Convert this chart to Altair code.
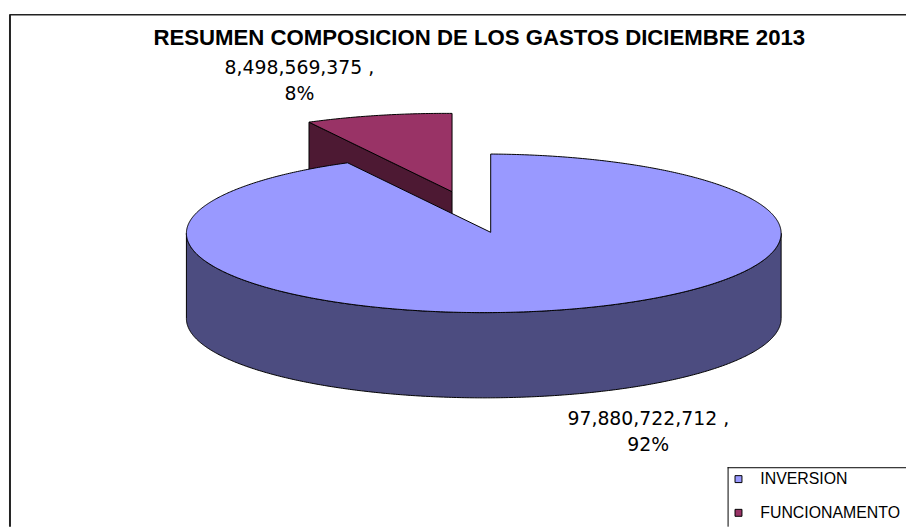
import numpy as np
import pandas as pd
import altair as alt

# ---------------- data ----------------
title_text = "RESUMEN COMPOSICION DE LOS GASTOS DICIEMBRE 2013"
categories = ["INVERSION", "FUNCIONAMENTO"]
values = [97880722712, 8498569375]

# ---------------- style / layout ----------------
top_colors = ["#9999FF", "#993366"]
side_colors = ["#4C4C80", "#4D1933"]
explode = [(0.0, 0.0), (-39.0, -41.0)]          # screen offset of each slice
label_anchor = [(654.0, 426.0), (302.0, 72.0)]   # first-line baseline (page px)
LINE_GAP = 27

X0, Y0 = 10, 12          # view origin on the page
W, H = 904, 517
ECX, ECY, RX, RY = 488.0, 233.0, 300.0, 80.0   # rim ellipse
APX, APY = 495.0, 232.0                          # pie apex (perspective)
DEPTH = 86.0
LEG_X, LEG_Y = 734, 469                          # legend frame corner (page px)

total = float(sum(values))
fracs = [v / total for v in values]
bounds = np.concatenate([[0.0], np.cumsum(fracs)]) * 2 * np.pi


def rim_phi(theta):
    u0 = (APX - ECX) / RX
    v0 = (APY - ECY) / RY
    du, dv = np.sin(theta), -np.cos(theta)
    b = u0 * du + v0 * dv
    c = u0 * u0 + v0 * v0 - 1
    t = -b + np.sqrt(b * b - c)
    u, v = u0 + t * du, v0 + t * dv
    phi = np.arctan2(u, -v)
    return phi + 2 * np.pi * np.round((theta - phi) / (2 * np.pi))


def rim(phi, dx, dy, drop=0.0):
    return ECX + RX * np.sin(phi) + dx, ECY - RY * np.cos(phi) + dy + drop


rows = []
fid = 0


def add_face(kind, cat, color, xs, ys):
    global fid
    for i, (xx, yy) in enumerate(zip(xs, ys)):
        rows.append(dict(face=fid, kind=kind, category=cat, color=color, i=i, x=float(xx), y=float(yy)))
    fid += 1


for k, cat in enumerate(categories):
    ts, te = bounds[k], bounds[k + 1]
    dx, dy = explode[k]
    ps, pe = rim_phi(ts), rim_phi(te)
    n = max(4, int(np.degrees(pe - ps) * 2))
    # radial faces
    if np.sin(ts) < -1e-9:
        rx_, ry_ = rim(ps, dx, dy)
        add_face("radial", cat, side_colors[k],
                 [APX + dx, rx_, rx_, APX + dx],
                 [APY + dy, ry_, ry_ + DEPTH, APY + dy + DEPTH])
    if np.sin(te) > 1e-9:
        rx_, ry_ = rim(pe, dx, dy)
        add_face("radial", cat, side_colors[k],
                 [APX + dx, rx_, rx_, APX + dx],
                 [APY + dy, ry_, ry_ + DEPTH, APY + dy + DEPTH])
    # outer (front) side
    for w in (-1, 0, 1):
        lo = max(ps, np.pi / 2 + 2 * np.pi * w)
        hi = min(pe, 3 * np.pi / 2 + 2 * np.pi * w)
        if hi > lo:
            ph = np.linspace(lo, hi, max(4, int(np.degrees(hi - lo) * 2)))
            tx, ty = rim(ph, dx, dy)
            bx, by = rim(ph[::-1], dx, dy, DEPTH)
            add_face("side", cat, side_colors[k],
                     np.concatenate([tx, bx]), np.concatenate([ty, by]))
    # top face
    ph = np.linspace(ps, pe, n)
    tx, ty = rim(ph, dx, dy)
    add_face("top", cat, top_colors[k],
             np.concatenate([[APX + dx], tx]), np.concatenate([[APY + dy], ty]))

faces = pd.DataFrame(rows)

lab_rows = []
for k, cat in enumerate(categories):
    ax_, ay_ = label_anchor[k]
    pct = round(fracs[k] * 100)
    lab_rows.append(dict(category=cat, text=f"{values[k]:,} ,", x=ax_, y=ay_))
    lab_rows.append(dict(category=cat, text=f"{pct}%", x=ax_, y=ay_ + LINE_GAP))
labels = pd.DataFrame(lab_rows)

xs = alt.Scale(domain=[X0, X0 + W], nice=False, zero=False)
ys = alt.Scale(domain=[Y0, Y0 + H], nice=False, zero=False, reverse=True)
X = alt.X("x:Q", scale=xs, axis=None)
Y = alt.Y("y:Q", scale=ys, axis=None)

one = alt.Data(values=[{}])
border_left = alt.Chart(one).mark_rule(color="#222222", strokeWidth=2).encode(
    x=alt.value(0), y=alt.value(0), y2=alt.value(H))
border_top = alt.Chart(one).mark_rule(color="#222222", strokeWidth=1.5).encode(
    x=alt.value(0), x2=alt.value(W), y=alt.value(0.5))
legend_left = alt.Chart(one).mark_rule(color="black", strokeWidth=1).encode(
    x=alt.value(LEG_X - X0 + 0.5), y=alt.value(LEG_Y - Y0), y2=alt.value(H))
legend_top = alt.Chart(one).mark_rule(color="black", strokeWidth=1).encode(
    x=alt.value(LEG_X - X0), x2=alt.value(W), y=alt.value(LEG_Y - Y0 + 0.5))

poly = dict(interpolate="linear-closed", stroke="black", strokeWidth=1)

radial = alt.Chart(faces).transform_filter("datum.kind == 'radial'").mark_line(**poly).encode(
    x=X, y=Y, order=alt.Order("i:Q"), detail="face:N",
    fill=alt.Fill("color:N", scale=None))
side = alt.Chart(faces).transform_filter("datum.kind == 'side'").mark_line(**poly).encode(
    x=X, y=Y, order=alt.Order("i:Q"), detail="face:N",
    fill=alt.Fill("color:N", scale=None))
top = alt.Chart(faces).transform_filter("datum.kind == 'top'").mark_line(**poly).encode(
    x=X, y=Y, order=alt.Order("i:Q"), detail="face:N",
    fill=alt.Fill("category:N", scale=alt.Scale(domain=categories, range=top_colors),
                  legend=alt.Legend(title=None, orient="none",
                                    legendX=LEG_X - X0 - 2, legendY=LEG_Y - Y0 - 1,
                                    symbolType="square", symbolSize=49,
                                    symbolStrokeColor="black", symbolStrokeWidth=1,
                                    labelFont="Liberation Sans", labelFontSize=16,
                                    labelColor="black", labelOffset=14, rowPadding=18,
                                    labelLimit=600, padding=5)))

label_layer = alt.Chart(labels).mark_text(
    font="DejaVu Sans", fontSize=19, align="center", baseline="alphabetic", color="black"
).encode(x=X, y=Y, text="text:N")

title_layer = alt.Chart(one).mark_text(
    text=title_text, font="Liberation Sans", fontWeight="bold", fontSize=22.4,
    align="center", baseline="alphabetic", color="black"
).encode(x=alt.value(483.5 - X0), y=alt.value(43 - Y0))

chart = alt.layer(border_left, border_top, legend_left, legend_top, radial, side, top,
                  label_layer, title_layer).resolve_scale(
    fill="independent"
).properties(
    width=W, height=H, padding={"left": 2, "top": 4, "right": 0, "bottom": 0},
    autosize="none", background="white"
).configure_view(stroke=None)

chart.save("out.html", embed_options={"renderer": "svg", "actions": False})
